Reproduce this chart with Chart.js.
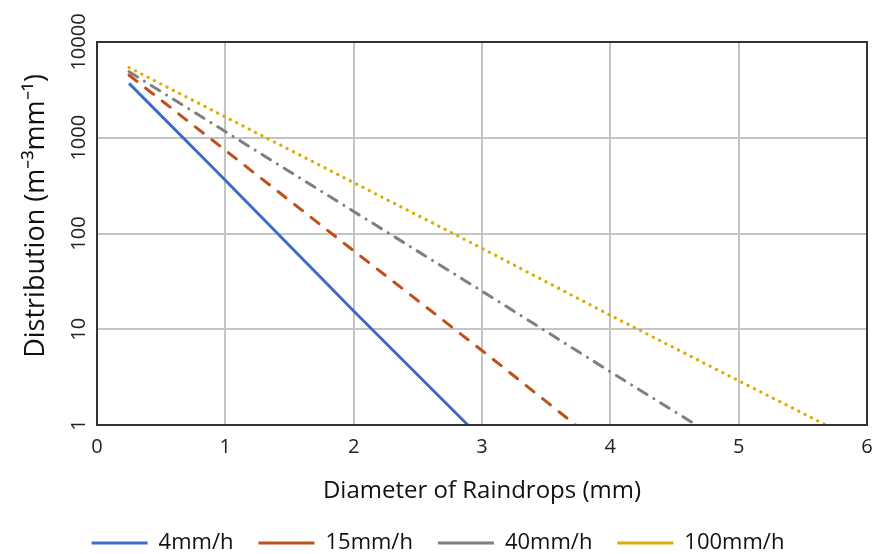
<!DOCTYPE html>
<html>
<head>
<meta charset="utf-8">
<script src="https://cdn.jsdelivr.net/npm/chart.js@4.4.1/dist/chart.umd.min.js"></script>
<style>
  html, body { margin: 0; padding: 0; background: #fff; }
  #wrap { width: 876px; height: 554px; }
</style>
</head>
<body>
<div id="wrap"><canvas id="rain"></canvas></div>
<script>
// raindrop size distributions
const seriesNames = ['4mm/h', '15mm/h', '40mm/h', '100mm/h'];
const d4 = [0.25, 1, 2, 2.89];
const n4 = [3700, 360, 15.5, 1];
const d15 = [0.25, 1, 2, 3, 3.73];
const n15 = [4500, 740, 66, 6, 1];
const d40 = [0.25, 1, 2, 3, 4, 4.67];
const n40 = [4900, 1160, 170, 25, 3.6, 1];
const d100 = [0.25, 1, 2, 3, 4, 5, 5.68];
const n100 = [5400, 1650, 340, 70, 14, 2.9, 1];
const yTicks = [1, 10, 100, 1000, 10000];

function pts(xs, ys) {
  const out = [];
  for (let i = 0; i < xs.length; i++) {
    out.push({ x: xs[i], y: ys[i] });
  }
  return out;
}

const frame = {
  id: 'frame',
  afterDatasetsDraw(chart) {
    const a = chart.chartArea;
    const c = chart.ctx;
    c.save();
    c.strokeStyle = '#333';
    c.lineWidth = 2;
    c.strokeRect(a.left, a.top, a.right - a.left, a.bottom - a.top);
    c.restore();
  }
};

const font = 'Open Sans';

const ctx = document.getElementById('rain').getContext('2d');
const rainChart = new Chart(ctx, {
  type: 'scatter',
  data: {
    datasets: [{
        label: seriesNames[0],
        data: pts(d4, n4),
        borderColor: '#3d6cc8',
        backgroundColor: '#3d6cc8',
        borderWidth: 3,
        showLine: true,
        pointRadius: 0
      },
      {
        label: seriesNames[1],
        data: pts(d15, n15),
        borderColor: '#c0501a',
        backgroundColor: '#c0501a',
        borderWidth: 3,
        borderDash: [10, 11],
        borderCapStyle: 'round',
        showLine: true,
        pointRadius: 0
      },
      {
        label: seriesNames[2],
        data: pts(d40, n40),
        borderColor: '#7f7f7f',
        backgroundColor: '#7f7f7f',
        borderWidth: 3,
        borderDash: [10, 8, 0.1, 8],
        borderCapStyle: 'round',
        showLine: true,
        pointRadius: 0
      },
      {
        label: seriesNames[3],
        data: pts(d100, n100),
        borderColor: '#dcac00',
        backgroundColor: '#dcac00',
        borderWidth: 3.2,
        borderDash: [0.1, 7],
        borderCapStyle: 'round',
        showLine: true,
        pointRadius: 0
      }
    ]
  },
  options: {
    responsive: true,
    maintainAspectRatio: false,
    animation: false,
    layout: {
      padding: { top: 42, right: 0, left: 0, bottom: -10 }
    },
    scales: {
      x: {
        type: 'linear',
        min: 0,
        max: 6,
        ticks: {
          stepSize: 1,
          color: '#222',
          padding: 10,
          font: { family: font, size: 20 }
        },
        grid: { color: '#c4c4c4', lineWidth: 2, drawTicks: false },
        border: { display: false },
        title: {
          display: true,
          text: 'Diameter of Raindrops (mm)',
          color: '#111',
          padding: { top: 0, bottom: 1 },
          font: { family: font, size: 24 }
        },
        afterFit(scale) {
          scale.height = 82;
          scale.paddingRight = 9;
        }
      },
      y: {
        type: 'logarithmic',
        min: 1,
        max: 10000,
        afterBuildTicks(scale) {
          scale.ticks = yTicks.map(v => ({ value: v }));
        },
        ticks: {
          color: '#222',
          padding: -11,
          minRotation: 90,
          maxRotation: 90,
          crossAlign: 'center',
          font: { family: font, size: 20 },
          callback: v => String(v)
        },
        grid: { color: '#c4c4c4', lineWidth: 2, drawTicks: false },
        border: { display: false },
        title: {
          display: true,
          text: '     Distribution (m⁻³mm⁻¹)',
          color: '#111',
          padding: { top: 20, bottom: 0 },
          font: { family: font, size: 27 }
        },
        afterFit(scale) { scale.width = 97; }
      }
    },
    plugins: {
      legend: {
        position: 'bottom',
        labels: {
          usePointStyle: true,
          pointStyle: 'line',
          pointStyleWidth: 56,
          boxHeight: 22,
          padding: 25,
          color: '#111',
          font: { family: font, size: 22 }
        }
      },
      tooltip: { enabled: false }
    }
  },
  plugins: [frame]
});
</script>
</body>
</html>
